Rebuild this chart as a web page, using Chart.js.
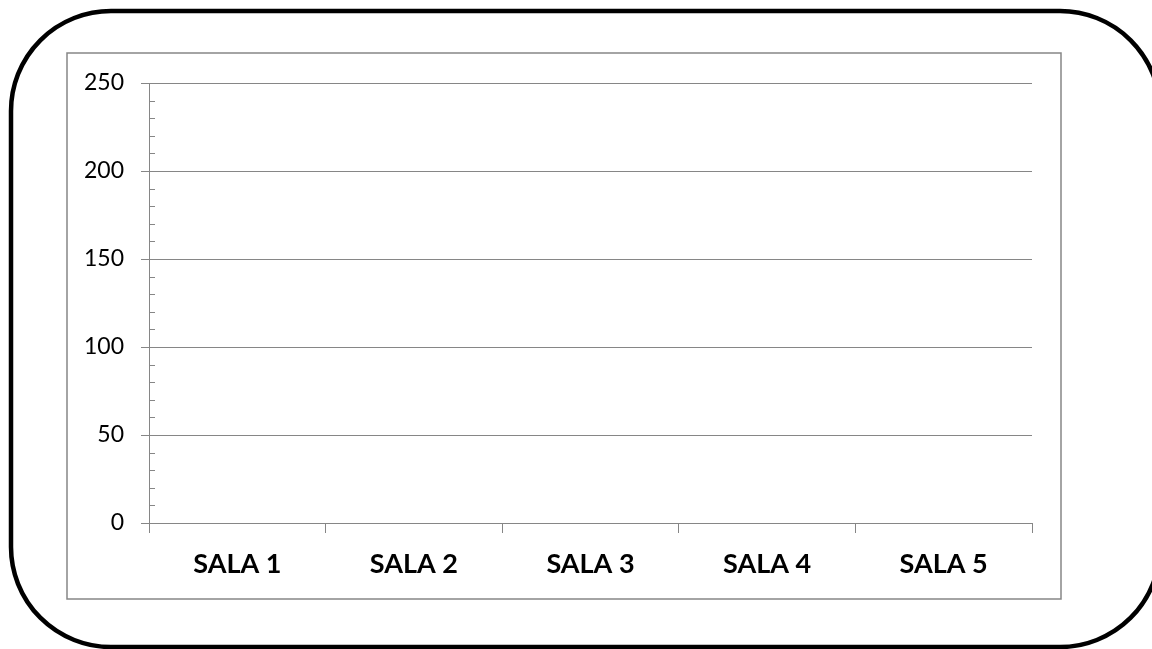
<!DOCTYPE html>
<html>
<head>
<meta charset="utf-8">
<script src="https://cdn.jsdelivr.net/npm/chart.js@4/dist/chart.umd.min.js"></script>
<style>
  html, body { margin: 0; padding: 0; background: #ffffff; }
  #wrap { position: relative; width: 1152px; height: 649px; }
  canvas { display: block; }
</style>
</head>
<body>
<div id="wrap"><canvas id="c" width="1152" height="649"></canvas></div>
<script>
// ---- data (the reference chart has no visible bars) ----
const categories = ["SALA 1", "SALA 2", "SALA 3", "SALA 4", "SALA 5"];
const seriesValues = [null, null, null, null, null];
const yTickValues = [0, 50, 100, 150, 200, 250];
const yMinorStep = 10;

const GRAY = "#868686";

const framePlugin = {
  id: "frame",
  beforeDraw(chart) {
    const ctx = chart.ctx;
    ctx.save();
    ctx.fillStyle = "#ffffff";
    ctx.fillRect(0, 0, chart.width, chart.height);
    // outer rounded border
    ctx.beginPath();
    ctx.lineWidth = 4.5;
    ctx.strokeStyle = "#000000";
    ctx.roundRect(11, 11, 1149, 636, 100);
    ctx.stroke();
    // inner chart frame
    ctx.beginPath();
    ctx.lineWidth = 1.5;
    ctx.strokeStyle = GRAY;
    ctx.strokeRect(67, 53, 994, 546);
    ctx.restore();
  },
  afterDraw(chart) {
    const y = chart.scales.y;
    const ctx = chart.ctx;
    const x0 = y.right;
    ctx.save();
    ctx.strokeStyle = GRAY;
    ctx.lineWidth = 1;
    for (let v = y.min; v <= y.max; v += yMinorStep) {
      if (v % 50 === 0) continue;
      const py = Math.round(y.getPixelForValue(v)) + 0.5;
      ctx.beginPath();
      ctx.moveTo(x0, py);
      ctx.lineTo(x0 + 6, py);
      ctx.stroke();
    }
    ctx.restore();
  }
};

new Chart(document.getElementById("c"), {
  type: "bar",
  data: {
    labels: categories,
    datasets: [{ label: "Serie", data: seriesValues, backgroundColor: "#4F81BD" }]
  },
  options: {
    responsive: false,
    animation: false,
    devicePixelRatio: 1,
    layout: { padding: { left: 0, top: 83, right: 120, bottom: 0 } },
    plugins: { legend: { display: false }, tooltip: { enabled: false } },
    scales: {
      x: {
        grid: { display: true, drawOnChartArea: false, drawTicks: true, tickLength: 10, color: GRAY, lineWidth: 1, offset: true },
        border: { display: true, color: GRAY, width: 1 },
        ticks: { color: "#000000", padding: 15, font: { family: "Lato", size: 27, weight: "bold" }, maxRotation: 0 },
        afterFit(scale) { scale.height = 126; }
      },
      y: {
        min: 0, max: 250,
        afterBuildTicks(scale) { scale.ticks = yTickValues.map(v => ({ value: v })); },
        grid: { display: true, drawOnChartArea: true, drawTicks: true, tickLength: 8, color: GRAY, lineWidth: 1 },
        border: { display: true, color: GRAY, width: 1 },
        ticks: { color: "#000000", padding: 17, font: { family: "Lato", size: 23 } },
        afterFit(scale) { scale.width = 149; }
      }
    }
  },
  plugins: [framePlugin]
});
</script>
</body>
</html>
